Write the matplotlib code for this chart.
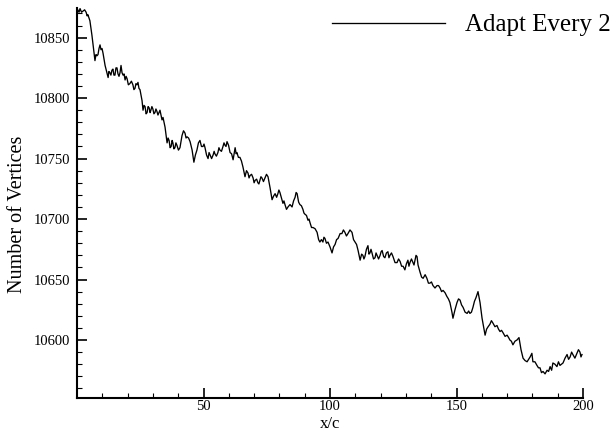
import matplotlib
matplotlib.use("Agg")
import matplotlib.pyplot as plt

plt.rcParams['font.family'] = ['Liberation Serif', 'DejaVu Serif']

x_vals = [
    0.3, 0.8, 1.2, 1.8, 2.4, 3.0, 3.6, 4.0, 4.3, 5.1,
    5.9, 6.7, 7.1, 7.5, 7.9, 8.3, 8.7, 9.1, 9.5, 9.9,
    10.3, 11.1, 12.3, 12.6, 13.0, 13.4, 13.8, 14.2, 14.6, 15.0,
    15.4, 15.8, 16.2, 16.6, 17.0, 17.4, 17.8, 18.2, 18.6, 19.0,
    19.4, 19.8, 20.3, 20.9, 21.5, 22.1, 22.5, 22.9, 23.3, 23.7,
    24.1, 24.5, 24.9, 25.7, 26.1, 26.5, 26.9, 27.3, 27.7, 28.1,
    28.5, 28.9, 29.2, 29.6, 30.0, 30.4, 30.8, 31.2, 31.6, 32.0,
    32.4, 32.8, 33.2, 33.6, 34.0, 34.8, 35.6, 36.0, 36.4, 36.8,
    37.2, 37.6, 37.9, 38.3, 38.7, 39.1, 39.5, 40.1, 40.7, 41.5,
    42.1, 42.7, 43.1, 43.5, 44.1, 44.7, 45.5, 46.2, 46.8, 47.4,
    48.0, 48.6, 49.2, 49.8, 50.2, 50.6, 51.2, 51.8, 52.2, 52.6,
    53.2, 53.8, 54.2, 54.5, 55.1, 55.7, 56.1, 56.5, 57.1, 57.7,
    58.1, 58.5, 58.9, 59.3, 59.9, 60.5, 61.1, 61.7, 62.1, 62.5,
    62.9, 63.2, 63.8, 64.4, 65.0, 65.6, 66.4, 67.0, 67.6, 68.0,
    68.4, 69.0, 69.6, 70.0, 70.4, 71.0, 71.5, 71.9, 72.3, 72.7,
    73.1, 73.7, 74.3, 74.9, 75.5, 76.3, 77.1, 77.7, 78.3, 78.9,
    79.4, 79.8, 80.2, 81.4, 81.8, 82.2, 82.8, 83.4, 84.2, 85.0,
    85.6, 86.2, 86.6, 87.0, 87.6, 88.1, 88.7, 89.3, 89.7, 90.1,
    90.7, 91.3, 91.7, 92.1, 92.7, 93.3, 94.1, 94.9, 95.5, 96.0,
    96.6, 97.2, 97.6, 98.0, 98.6, 99.2, 100.0, 100.8, 101.4, 102.0,
    102.6, 103.2, 104.0, 104.7, 105.3, 105.9, 106.5, 107.1, 107.9, 108.7,
    109.3, 109.9, 110.5, 111.1, 111.9, 112.5, 113.0, 113.4, 113.8, 114.4,
    115.0, 115.4, 115.8, 116.2, 116.6, 117.2, 117.8, 118.2, 118.6, 119.2,
    119.8, 120.2, 120.6, 121.2, 121.7, 122.3, 122.9, 123.3, 123.7, 124.3,
    124.9, 125.7, 126.5, 127.1, 127.7, 128.3, 128.9, 129.6, 130.2, 130.8,
    131.2, 131.6, 132.2, 132.8, 133.2, 133.6, 134.0, 134.4, 134.8, 135.6,
    136.2, 136.8, 137.6, 138.3, 138.9, 139.5, 140.1, 140.7, 141.5, 142.3,
    142.9, 143.5, 144.1, 144.7, 145.5, 146.2, 146.8, 147.4, 148.2, 148.6,
    149.4, 150.2, 150.8, 151.4, 152.0, 152.6, 153.4, 154.2, 154.8, 155.3,
    155.9, 156.5, 157.1, 157.7, 158.5, 159.3, 160.1, 161.3, 161.9, 162.5,
    163.2, 163.8, 164.4, 165.2, 166.0, 166.6, 167.2, 167.8, 168.4, 169.2,
    170.0, 170.6, 171.1, 171.7, 172.3, 173.1, 173.9, 174.7, 175.5, 176.3,
    177.1, 177.9, 178.5, 179.1, 179.8, 180.2, 181.0, 181.8, 182.4, 183.0,
    183.6, 184.2, 185.0, 185.8, 186.4, 187.0, 187.6, 188.1, 188.9, 189.7,
    190.3, 190.9, 191.5, 192.1, 192.9, 193.7, 194.3, 194.9, 195.5, 196.0,
    196.8, 197.6, 198.2, 198.8, 199.2, 199.6,
]

vertices = [
    10873, 10871, 10874, 10871, 10872, 10873, 10871, 10868, 10869, 10864,
    10852, 10838, 10831, 10836, 10835, 10836, 10841, 10844, 10840, 10841,
    10837, 10827, 10817, 10822, 10821, 10819, 10823, 10824, 10819, 10819,
    10825, 10825, 10820, 10818, 10821, 10827, 10821, 10819, 10820, 10815,
    10818, 10816, 10811, 10812, 10814, 10811, 10807, 10808, 10812, 10811,
    10813, 10808, 10807, 10798, 10790, 10794, 10793, 10787, 10788, 10793,
    10792, 10788, 10790, 10793, 10791, 10787, 10788, 10791, 10789, 10786,
    10788, 10790, 10786, 10782, 10784, 10776, 10763, 10767, 10765, 10759,
    10760, 10765, 10763, 10758, 10759, 10763, 10761, 10757, 10759, 10769,
    10773, 10771, 10767, 10768, 10767, 10764, 10757, 10747, 10753, 10757,
    10763, 10765, 10760, 10760, 10762, 10759, 10753, 10750, 10755, 10753,
    10750, 10753, 10756, 10754, 10752, 10755, 10759, 10757, 10756, 10760,
    10763, 10761, 10760, 10764, 10761, 10755, 10754, 10749, 10754, 10759,
    10754, 10755, 10751, 10751, 10748, 10743, 10735, 10740, 10738, 10734,
    10736, 10737, 10734, 10730, 10732, 10733, 10730, 10729, 10732, 10735,
    10734, 10731, 10734, 10737, 10735, 10726, 10716, 10719, 10721, 10718,
    10721, 10724, 10722, 10713, 10715, 10712, 10708, 10710, 10712, 10710,
    10715, 10718, 10722, 10721, 10714, 10712, 10711, 10708, 10705, 10704,
    10703, 10699, 10700, 10697, 10693, 10693, 10692, 10689, 10683, 10681,
    10683, 10681, 10685, 10684, 10680, 10681, 10677, 10672, 10677, 10679,
    10683, 10684, 10688, 10688, 10691, 10689, 10686, 10688, 10691, 10689,
    10683, 10681, 10679, 10674, 10666, 10671, 10670, 10667, 10669, 10675,
    10678, 10671, 10672, 10675, 10672, 10667, 10668, 10672, 10670, 10667,
    10670, 10673, 10674, 10669, 10668, 10672, 10673, 10668, 10670, 10672,
    10669, 10664, 10664, 10667, 10665, 10661, 10661, 10658, 10663, 10666,
    10661, 10664, 10667, 10664, 10662, 10666, 10670, 10669, 10662, 10656,
    10652, 10651, 10654, 10651, 10647, 10647, 10648, 10645, 10643, 10645,
    10645, 10643, 10640, 10641, 10639, 10636, 10634, 10631, 10623, 10618,
    10625, 10631, 10634, 10633, 10629, 10627, 10623, 10622, 10624, 10622,
    10623, 10627, 10632, 10635, 10640, 10631, 10618, 10604, 10609, 10611,
    10613, 10616, 10614, 10611, 10612, 10609, 10607, 10608, 10606, 10603,
    10604, 10602, 10600, 10599, 10596, 10599, 10600, 10602, 10592, 10585,
    10583, 10582, 10584, 10586, 10589, 10582, 10582, 10579, 10577, 10577,
    10573, 10574, 10572, 10575, 10574, 10578, 10575, 10581, 10580, 10578,
    10582, 10579, 10580, 10581, 10585, 10588, 10584, 10586, 10590, 10588,
    10585, 10589, 10592, 10590, 10586, 10588,
]

series_label = "Adapt Every 2"
x_ticks = [50, 100, 150, 200]
y_ticks = [10600, 10650, 10700, 10750, 10800, 10850]

fig = plt.figure(figsize=(6.13, 4.38), dpi=100)
ax = fig.add_axes([77 / 613, 1 - 397.7 / 438, (583 - 77) / 613, (397.7 - 8) / 438])

line, = ax.plot(x_vals, vertices, color='black', lw=0.95, label=series_label)

ax.set_xlim(0, 200)
ax.set_ylim(10552.3, 10874.5)
ax.set_xticks(x_ticks)
ax.set_yticks(y_ticks)
ax.set_xticks(range(10, 200, 10), minor=True)
ax.set_yticks(range(10560, 10875, 10), minor=True)

for s in ['top', 'right']:
    ax.spines[s].set_visible(False)
for s in ['left', 'bottom']:
    ax.spines[s].set_linewidth(1.5)

ax.tick_params(which='major', direction='in', length=7, width=1.2, labelsize=10.5)
ax.tick_params(which='minor', direction='in', length=3.5, width=0.8)
ax.tick_params(axis='y', which='major', pad=5)
ax.tick_params(axis='x', which='major', pad=2)

ax.set_xlabel('x/c', fontsize=12, labelpad=2)
ax.set_ylabel('Number of Vertices', fontsize=14.5)
ax.yaxis.set_label_coords(-0.098, 0.47)

fig.legend(handles=[line], loc='center left', bbox_to_anchor=(332 / 613, 1 - 25 / 438),
           frameon=False, fontsize=18, handlelength=4.5, handletextpad=0.8,
           borderpad=0, borderaxespad=0)

fig.savefig('out.png', dpi=100)
